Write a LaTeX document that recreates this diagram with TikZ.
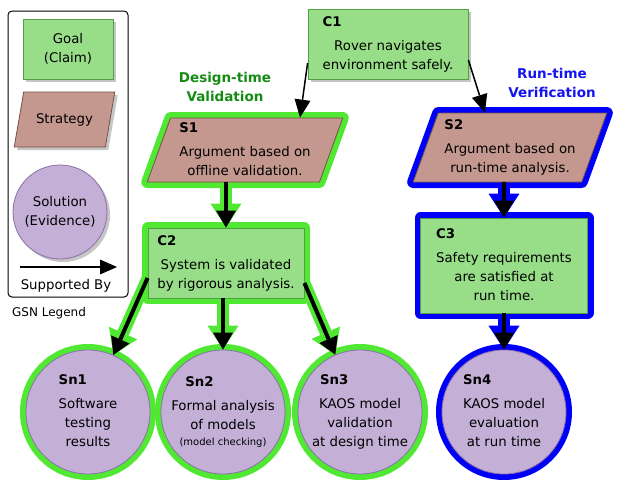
\documentclass[tikz,border=0pt]{standalone}
\usepackage{fontspec}
\setmainfont{DejaVu Sans}
\usetikzlibrary{shapes.geometric,arrows.meta,shadows,backgrounds}
\definecolor{goalfill}{RGB}{152,222,136}
\definecolor{goalline}{RGB}{80,160,70}
\definecolor{stratfill}{RGB}{196,152,142}
\definecolor{stratline}{RGB}{120,80,70}
\definecolor{solfill}{RGB}{196,176,214}
\definecolor{solline}{RGB}{140,110,170}
\definecolor{glowgreen}{RGB}{80,232,50}
\definecolor{glowblue}{RGB}{0,0,250}
\definecolor{designgreen}{RGB}{20,140,20}
\definecolor{runblue}{RGB}{20,20,240}
\newcommand{\gsn}[2]{\begin{tabular}{@{}c@{}}\multicolumn{1}{@{}l@{}}{\textbf{#1}}\\[5pt]#2\end{tabular}}
\tikzstyle{body}=[font=\fontsize{13.3}{19}\selectfont]
\tikzstyle{goal}=[body, shape = rectangle, draw = goalline, fill = goalfill, line width = 0.8pt, inner sep = 0pt]
\tikzstyle{strategy}=[body, shape = trapezium, trapezium stretches = true, draw = stratline, fill = stratfill, line width = 0.8pt, inner sep = 1pt]
\tikzstyle{solution}=[body, shape = circle, draw = solline, fill = solfill, line width = 0.8pt, inner sep = -8pt]
\tikzstyle{greenglow}=[preaction = {draw = glowgreen, line width = 12pt, line join = round}]
\tikzstyle{blueglow}=[preaction = {draw = glowblue, line width = 12pt, line join = round}]
\tikzstyle{shade}=[drop shadow = {shadow xshift = 3pt, shadow yshift = -3pt, opacity = 0.45}]

\begin{document}
\begin{tikzpicture}[x = 1pt, y = -1pt]
\tikzstyle{link}=[line width = 1.5pt, -{Triangle[width = 16pt, length = 18pt, line width = 0pt]}]
\tikzstyle{supp}=[line width = 4pt, -{Triangle[width = 20pt, length = 17pt, line width = 0pt]}]
\tikzstyle{greensupp}=[glowgreen, line width = 12pt, -{Triangle[width = 31pt, length = 24pt, line width = 0pt]}]
\tikzstyle{bluesupp}=[glowblue, line width = 12pt, -{Triangle[width = 31pt, length = 24pt, line width = 0pt]}]
\useasboundingbox (0,0) rectangle (619,482);

\node[draw, rounded corners = 4pt, line width = 1pt, minimum width = 120pt, minimum height = 286pt] (legend) at (68,154) {};
\node[goal, shade, minimum width = 90pt, minimum height = 60pt, align = center] (lgoal) at (68,49) {Goal\\(Claim)};
\node[strategy, shade, trapezium left angle = 65, trapezium right angle = 115, minimum width = 101pt, minimum height = 55pt] (lstrat) at (64.5,119.5) {Strategy};
\node[solution, shade, minimum size = 94pt, align = center] (lsol) at (60,212) {Solution\\(Evidence)};
\coordinate (lgA) at (20,267);
\coordinate (lgB) at (117,267);
\draw[line width = 1.5pt, -{Triangle[width = 15pt, length = 17pt, line width = 0pt]}] (lgA) -- (lgB);
\node[body] (lsupp) at (66,286) {Supported By};
\node[font = \fontsize{12}{14}\selectfont] (lname) at (49,313) {GSN Legend};

\node[font = \fontsize{13.5}{19}\selectfont\bfseries, text = designgreen, align = center] (dlabel) at (225,87) {Design-time\\Validation};
\node[font = \fontsize{13.5}{19}\selectfont\bfseries, text = runblue, align = center] (rlabel) at (552,83) {Run-time\\Verification};

\node[goal, shade, minimum width = 160pt, minimum height = 70pt] (C1) at (388,44) {\gsn{C1}{Rover navigates\\environment safely.}};
\node[strategy, greenglow, trapezium left angle = 72, trapezium right angle = 108, minimum width = 196pt, minimum height = 64pt] (S1) at (245,150) {\gsn{S1}{Argument based on\\offline validation.}};
\node[strategy, blueglow, trapezium left angle = 70, trapezium right angle = 110, minimum width = 194pt, minimum height = 69pt] (S2) at (510,147.5) {\gsn{S2}{Argument based on\\run-time analysis.}};
\node[goal, greenglow, minimum width = 156pt, minimum height = 70pt] (C2) at (226,263) {\gsn{C2}{System is validated\\by rigorous analysis.}};
\node[goal, blueglow, minimum width = 167pt, minimum height = 95pt] (C3) at (504,265.5) {\gsn{C3}{Safety requirements\\are satisfied at\\run time.}};
\node[solution, greenglow, minimum size = 124pt] (Sn1) at (88,412) {\gsn{Sn1}{Software\\testing\\results}};
\node[solution, greenglow, minimum size = 124pt] (Sn2) at (223,412) {\gsn{\hspace{14pt}Sn2}{Formal analysis\\of models\\[-3pt]{\fontsize{10}{12}\selectfont(model checking)}}};
\node[solution, greenglow, minimum size = 124pt] (Sn3) at (360,412) {\gsn{\hspace{8pt}Sn3}{KAOS model\\validation\\at design time}};
\node[solution, blueglow, minimum size = 124pt] (Sn4) at (504,412) {\gsn{Sn4}{KAOS model\\evaluation\\at run time}};

\begin{scope}[on background layer]
\draw[greensupp] (C2 |- S1.south) -- (C2.north);
\draw[greensupp] ([yshift = -15pt]C2.west) -- (Sn1);
\draw[greensupp] (C2.south -| Sn2) -- (Sn2);
\draw[greensupp] ([yshift = -20pt]C2.east) -- (Sn3);
\draw[bluesupp] (C3 |- S2.south) -- (C3.north);
\draw[bluesupp] (C3.south) -- (Sn4);
\end{scope}

\draw[link] ([yshift = -19pt]C1.west) -- ([xshift = 55pt]S1.north);
\draw[link] ([yshift = -16pt]C1.east) -- ([xshift = 47pt]S2.top left corner);
\draw[supp] (C2 |- S1.south) -- (C2.north);
\draw[supp] ([yshift = -15pt]C2.west) -- (Sn1);
\draw[supp] (C2.south -| Sn2) -- (Sn2);
\draw[supp] ([yshift = -20pt]C2.east) -- (Sn3);
\draw[supp] (C3 |- S2.south) -- (C3.north);
\draw[supp] (C3.south) -- (Sn4);
\end{tikzpicture}
\end{document}
